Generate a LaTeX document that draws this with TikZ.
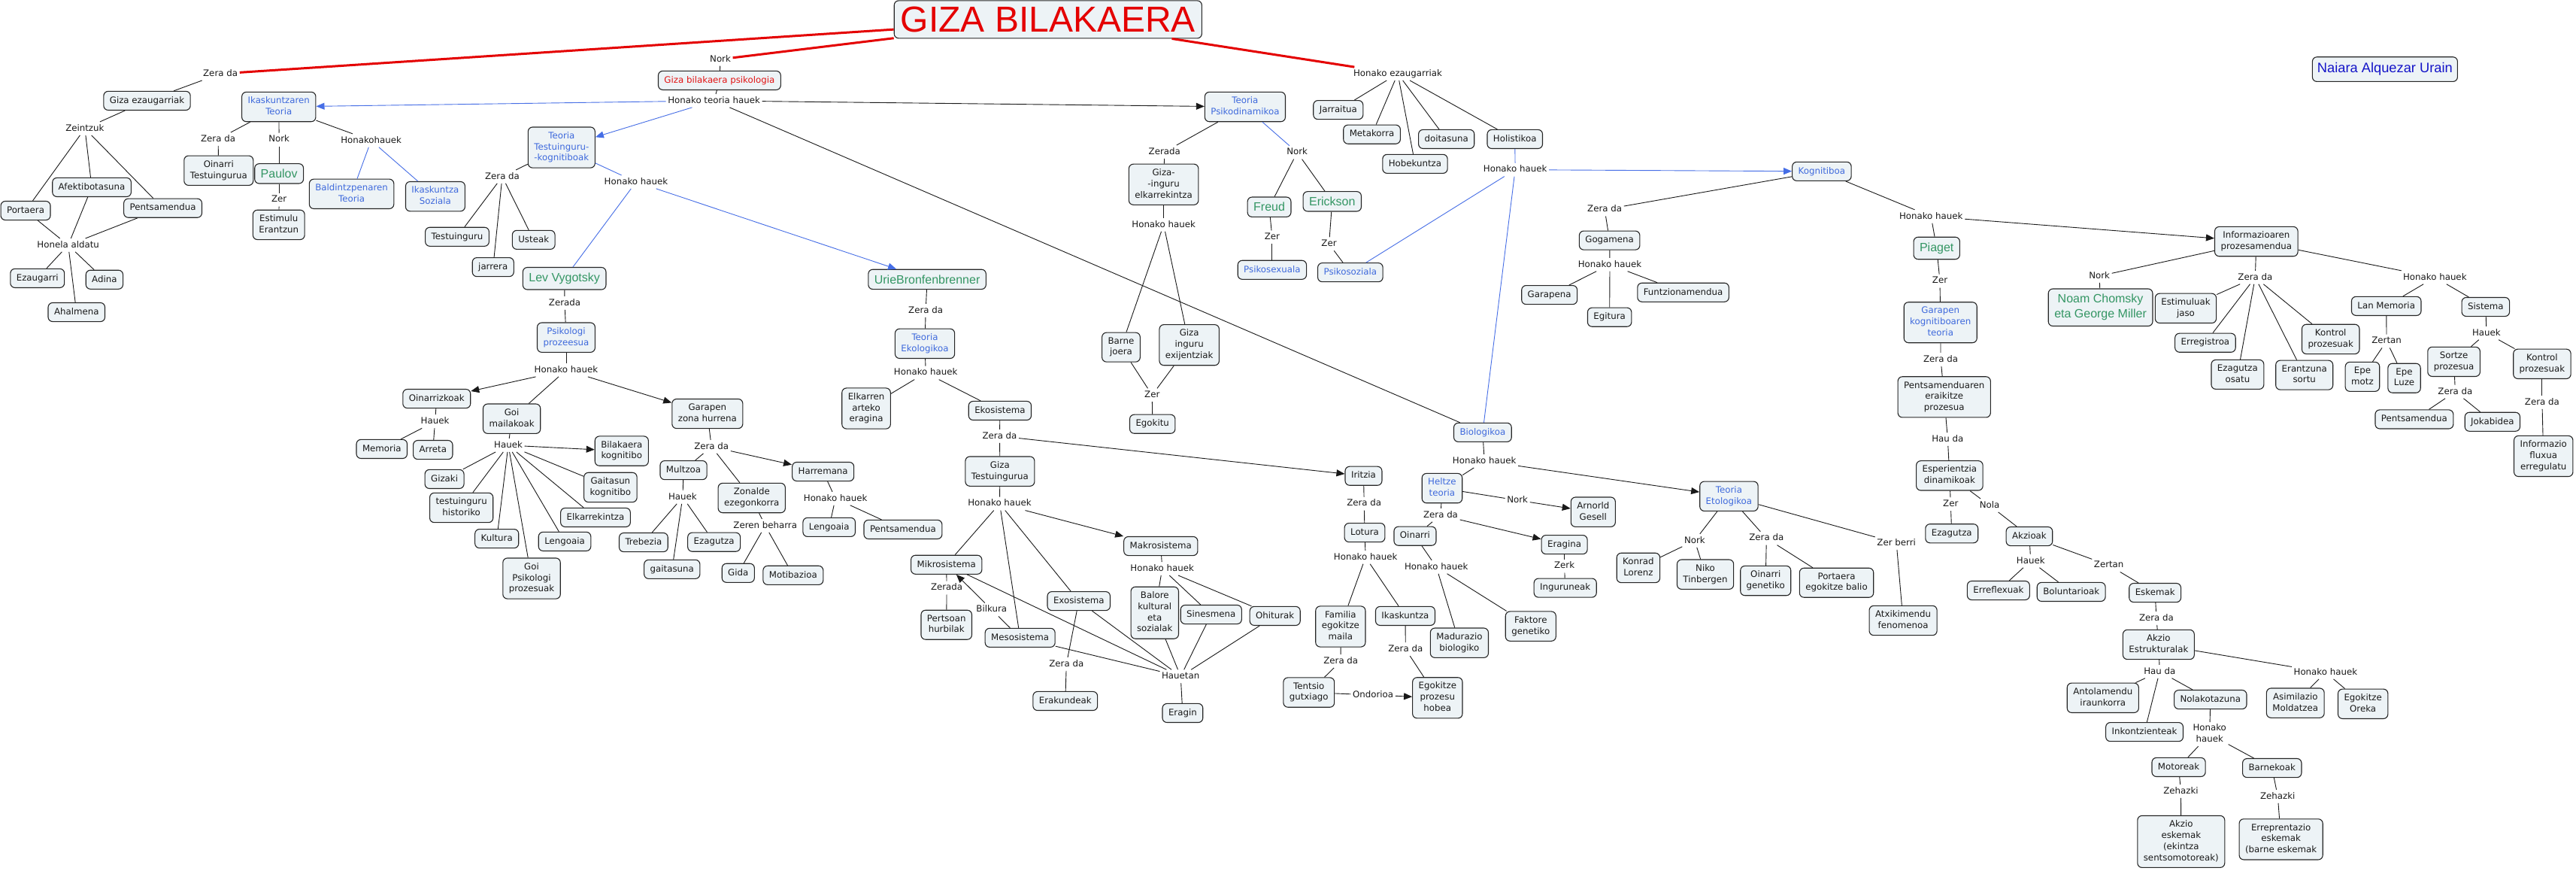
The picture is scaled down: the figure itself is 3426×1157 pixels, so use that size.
\documentclass[tikz,border=0pt]{standalone}
\usepackage{fontspec}
\setmainfont{DejaVu Sans}
\newfontfamily\arialf{Liberation Sans}
\usetikzlibrary{arrows.meta}
\setlength\parindent{0pt}
\newcommand\mystrut{\vrule width 0pt height 9.5pt depth 3pt\relax}
\definecolor{boxfill}{RGB}{237,243,246}
\definecolor{bluetext}{RGB}{62,105,220}
\definecolor{blueline}{RGB}{70,110,230}
\definecolor{greentext}{RGB}{52,150,100}
\definecolor{redline}{RGB}{228,0,0}
\definecolor{redtext}{RGB}{225,20,20}
\definecolor{darkblue}{RGB}{20,20,200}
\tikzset{
  basebox/.style={draw=black!85, line width=1.1pt, rounded corners=6pt, fill=boxfill, inner xsep=8pt, align=center, text=black!90},
  box/.style={basebox, inner ysep=6.3pt, font=\fontsize{11.8}{14.8}\selectfont, execute at begin node=\mystrut, execute at end node=\mystrut},
  bluebox/.style={box, text=bluetext},
  namebox/.style={basebox, inner ysep=7.3pt, text=greentext, font=\arialf\fontsize{16}{20}\selectfont},
  titlebox/.style={basebox, inner ysep=8pt, inner xsep=8.5pt, text=redline, font=\arialf\fontsize{48}{50}\selectfont},
  authbox/.style={basebox, inner ysep=7.8pt, inner xsep=6.5pt, text=darkblue, font=\arialf\fontsize{18.3}{22}\selectfont},
  lab/.style={inner sep=2.5pt, align=center, text=black!90, font=\fontsize{11.8}{14.8}\selectfont, execute at begin node=\mystrut, execute at end node=\mystrut},
  con/.style={draw=black!90, line width=0.9pt},
  arr/.style={con, -{Triangle[length=11pt,width=9pt]}},
  bcon/.style={draw=blueline, line width=0.9pt},
  barr/.style={bcon, -{Triangle[length=11pt,width=9pt]}},
  rcon/.style={draw=redline, line width=3pt},
}
\begin{document}
\begin{tikzpicture}[x=1pt,y=-1pt]
\useasboundingbox (0,0) rectangle (3426,1157);
\fill[white] (0,0) rectangle (3426,1157);

% ---------- zoom 1
\begin{scope}[shift={(0,0)},xscale=0.38265,yscale=0.36990]
\node[lab] (l1) at (766,265) {Zera da};
\node[box] (gizaez) at (511,362) {Giza ezaugarriak};
\node[lab] (zeintzuk) at (295,462) {Zeintzuk};
\node[box] (afek) at (319,673) {Afektibotasuna};
\node[box] (portaera) at (89,757) {Portaera};
\node[box] (pents1) at (566,748) {Pentsamendua};
\node[lab] (honela) at (237,881) {Honela aldatu};
\node[box] (ezaug) at (130,1000) {Ezaugarri};
\node[box] (adina) at (363,1005) {Adina};
\node[box] (ahal) at (266,1122) {Ahalmena};
\node[bluebox] (ikask) at (969,384) {Ikaskuntzaren\\Teoria};
\node[lab] (l2) at (758,500) {Zera da};
\node[lab] (l3) at (970,502) {Nork};
\node[lab] (l4) at (1290,505) {Honakohauek};
\node[box] (oinTest) at (760,613) {Oinarri\\Testuingurua};
\node[namebox] (paulov) at (970,624) {Paulov};
\node[lab] (l5) at (970,718) {Zer};
\node[box] (estim) at (969,808) {Estimulu\\Erantzun};
\node[bluebox] (baldin) at (1222,697) {Baldintzpenaren\\Teoria};
\node[bluebox] (iksoz) at (1513,706) {Ikaskuntza\\Soziala};
\node[box] (testu) at (1589,851) {Testuinguru};
\node[lab] (l6) at (1512,1515) {Hauek};
\end{scope}

% ---------- zoom 2
\begin{scope}[shift={(0,560)},xscale=0.38265,yscale=0.38074]
\node[box] (memoria) at (1327,97) {Memoria};
\end{scope}

% ---------- zoom 3
\begin{scope}[shift={(580,0)},xscale=0.38265,yscale=0.36990]
\node[lab] (nork0) at (988,213) {Nork};
\node[box, text=redtext] (gbp) at (985,289) {Giza bilakaera psikologia};
\node[lab] (hth) at (966,362) {Honako teoria hauek};
\node[bluebox] (ttk) at (436,530) {Teoria\\Testuinguru-\\-kognitiboak};
\node[lab] (l7) at (230,635) {Zera da};
\node[lab] (l8) at (695,654) {Honako hauek};
\node[box] (jarrera) at (198,960) {jarrera};
\node[box] (usteak) at (339,862) {Usteak};
\node[namebox] (lev) at (446,1001) {Lev Vygotsky};
\node[lab] (l9) at (447,1089) {Zerada};
\node[bluebox] (psikpro) at (452,1213) {Psikologi\\prozeesua};
\node[lab] (l10) at (452,1330) {Honako hauek};
\node[box] (oinarriz) at (2,1433) {Oinarrizkoak};
\node[box] (goimail) at (263,1505) {Goi\\mailakoak};
\node[box] (garzona) at (943,1487) {Garapen\\zona hurrena};
\node[box] (elkarren) at (1495,1468) {Elkarren\\arteko\\eragina};
\end{scope}

% ---------- zoom 4
\begin{scope}[shift={(580,560)},xscale=0.38265,yscale=0.38074]
\node[lab] (l11) at (251,84) {Hauek};
\node[box] (bilkog) at (645,104) {Bilakaera\\kognitibo};
\node[box] (gaitkog) at (606,231) {Gaitasun\\kognitibo};
\node[box] (elkarrek) at (554,336) {Elkarrekintza};
\node[box] (lengoaia1) at (447,420) {Lengoaia};
\node[box] (goipsik) at (332,549) {Goi\\Psikologi\\prozesuak};
\node[box] (kultura) at (211,410) {Kultura};
\node[box] (testhist) at (88,302) {testuinguru\\historiko};
\node[box] (gizaki) at (29,202) {Gizaki};
\node[box] (arreta) at (-11,100) {Arreta};
\node[lab] (l12) at (957,89) {Zera da};
\node[box] (multzoa) at (860,171) {Multzoa};
\node[box] (harremana) at (1345,176) {Harremana};
\node[box] (zonalde) at (1097,268) {Zonalde\\ezegonkorra};
\node[lab] (l13) at (857,265) {Hauek};
\node[lab] (l14) at (1388,270) {Honako hauek};
\node[lab] (l15) at (1144,365) {Zeren beharra};
\node[box] (trebezia) at (721,423) {Trebezia};
\node[box] (ezagutza1) at (966,422) {Ezagutza};
\node[box] (gaitasuna) at (820,517) {gaitasuna};
\node[box] (gida) at (1050,530) {Gida};
\node[box] (motib) at (1241,538) {Motibazioa};
\node[box] (lengoaia2) at (1366,370) {Lengoaia};
\end{scope}

% ---------- zoom 5
\begin{scope}[shift={(1160,0)},xscale=0.38265,yscale=0.36990]
\node[titlebox] (title) at (611,70) {GIZA BILAKAERA};
\node[bluebox] (psikodin) at (1296,384) {Teoria\\Psikodinamikoa};
\node[lab] (l16) at (1016,546) {Zerada};
\node[lab] (l17) at (1477,548) {Nork};
\node[box] (gizainguru) at (1013,663) {Giza-\\-inguru\\elkarrekintza};
\node[lab] (l18) at (1013,808) {Honako hauek};
\node[namebox] (freud) at (1380,744) {Freud};
\node[lab] (l19) at (1390,853) {Zer};
\node[bluebox] (psikosex) at (1390,970) {Psikosexuala};
\node[namebox] (uri) at (191,1004) {UrieBronfenbrenner};
\node[lab] (l20) at (186,1116) {Zera da};
\node[bluebox] (ekolog) at (183,1235) {Teoria\\Ekologikoa};
\node[lab] (l21) at (186,1340) {Honako hauek};
\node[box] (ekosist) at (444,1476) {Ekosistema};
\node[box] (barne) at (865,1248) {Barne\\joera};
\node[box] (gizaexij) at (1102,1240) {Giza\\inguru\\exijentziak};
\node[lab] (l22) at (973,1420) {Zer};
\node[box] (egokitu) at (974,1524) {Egokitu};
\end{scope}

% ---------- zoom 6
\begin{scope}[shift={(1160,560)},xscale=0.38265,yscale=0.38074]
\node[lab] (l23) at (443,52) {Zera da};
\node[box] (gizatest) at (444,175) {Giza\\Testuingurua};
\node[lab] (l24) at (443,288) {Honako hauek};
\node[box] (pents2) at (107,378) {Pentsamendua};
\node[box] (makro) at (1003,436) {Makrosistema};
\node[box] (mikro) at (258,501) {Mikrosistema};
\node[box] (exo) at (718,628) {Exosistema};
\node[box] (meso) at (514,756) {Mesosistema};
\node[lab] (l25) at (259,582) {Zerada};
\node[box] (pertsoan) at (258,711) {Pertsoan\\hurbilak};
\node[lab] (l26) at (415,658) {Bilkura};
\node[lab] (l27) at (675,848) {Zera da};
\node[box] (erakund) at (671,977) {Erakundeak};
\node[lab] (l28) at (1008,515) {Honako hauek};
\node[box] (balore) at (982,669) {Balore\\kultural\\eta\\sozialak};
\node[box] (sinesm) at (1178,675) {Sinesmena};
\node[box] (ohitur) at (1400,680) {Ohiturak};
\node[lab] (hauetan) at (1072,891) {Hauetan};
\node[box] (eragin) at (1079,1019) {Eragin};
\end{scope}

% ---------- zoom 7
\begin{scope}[shift={(1740,0)},xscale=0.38265,yscale=0.36990]
\node[lab] (honez) at (311,265) {Honako ezaugarriak};
\node[box] (jarraitua) at (104,395) {Jarraitua};
\node[box] (metak) at (221,483) {Metakorra};
\node[box] (hobek) at (371,589) {Hobekuntza};
\node[box] (doitas) at (480,500) {doitasuna};
\node[box] (holist) at (718,500) {Holistikoa};
\node[lab] (l29) at (719,610) {Honako hauek};
\node[namebox] (erickson) at (83,724) {Erickson};
\node[lab] (l30) at (72,877) {Zer};
\node[bluebox] (psikosoz) at (146,979) {Psikosoziala};
\node[lab] (l31) at (1030,753) {Zera da};
\node[box] (gogamena) at (1047,864) {Gogamena};
\node[lab] (l32) at (1048,951) {Honako hauek};
\node[box] (garapena) at (838,1060) {Garapena};
\node[box] (egitura) at (1047,1140) {Egitura};
\node[box] (funtz) at (1303,1051) {Funtzionamendua};
\end{scope}

% ---------- zoom 8
\begin{scope}[shift={(1740,560)},xscale=0.38265,yscale=0.38074]
\node[bluebox] (biolog) at (606,39) {Biologikoa};
\node[lab] (l33) at (612,139) {Honako hauek};
\node[box] (iritzia) at (192,191) {Iritzia};
\node[bluebox] (heltze) at (465,234) {Heltze\\teoria};
\node[bluebox] (etolog) at (1462,262) {Teoria\\Etologikoa};
\node[lab] (l34) at (727,276) {Nork};
\node[box] (gesell) at (990,317) {Arnorld\\Gesell};
\node[lab] (l35) at (460,328) {Zera da};
\node[box] (oinarri2) at (371,401) {Oinarri};
\node[box] (eragina) at (890,431) {Eragina};
\node[lab] (l36) at (890,506) {Zerk};
\node[box] (ingurun) at (893,582) {Inguruneak};
\node[lab] (l37) at (194,288) {Zera da};
\node[box] (lotura) at (196,389) {Lotura};
\node[lab] (l38) at (199,475) {Honako hauek};
\node[lab] (l39) at (445,509) {Honako hauek};
\node[box] (familia) at (112,717) {Familia\\egokitze\\maila};
\node[box] (ikaskuntza) at (337,680) {Ikaskuntza};
\node[box] (madurazio) at (525,774) {Madurazio\\biologiko};
\node[box] (faktore) at (773,716) {Faktore\\genetiko};
\node[lab] (l40) at (113,838) {Zera da};
\node[lab] (l41) at (338,796) {Zera da};
\node[box] (egokpro) at (449,966) {Egokitze\\prozesu\\hobea};
\node[lab] (l42) at (225,956) {Ondorioa};
\node[box] (tentsio) at (2,947) {Tentsio\\gutxiago};
\node[lab] (l43) at (1343,417) {Nork};
\node[box] (konrad) at (1147,512) {Konrad\\Lorenz};
\node[box] (niko) at (1380,535) {Niko\\Tinbergen};
\end{scope}

% ---------- zoom 9
\begin{scope}[shift={(2320,0)},xscale=0.35714,yscale=0.36990]
\node[bluebox] (kognit) at (288,616) {Kognitiboa};
\node[lab] (l44) at (695,778) {Honako hauek};
\node[namebox] (piaget) at (716,892) {Piaget};
\node[lab] (l45) at (728,1010) {Zer};
\node[bluebox] (garkog) at (730,1159) {Garapen\\kognitiboaren\\teoria};
\node[lab] (l46) at (731,1292) {Zera da};
\node[box] (pentsera) at (744,1427) {Pentsamenduaren\\eraikitze\\prozesua};
\node[lab] (l47) at (1322,992) {Nork};
\node[namebox] (noam) at (1326,1105) {Noam Chomsky\\eta George Miller};
\end{scope}

% ---------- zoom 10
\begin{scope}[shift={(2320,560)},xscale=0.35714,yscale=0.38074]
\node[lab] (l48) at (757,63) {Hau da};
\node[box] (esper) at (764,190) {Esperientzia\\dinamikoak};
\node[lab] (l49) at (768,290) {Zer};
\node[lab] (l50) at (913,294) {Nola};
\node[box] (ezagutza2) at (772,392) {Ezagutza};
\node[box] (akzioak) at (1061,402) {Akzioak};
\node[lab] (l51) at (1066,488) {Hauek};
\node[lab] (l52) at (1357,503) {Zertan};
\node[box] (erref) at (946,591) {Erreflexuak};
\node[box] (bolunt) at (1217,596) {Boluntarioak};
\node[box] (antol) at (1335,966) {Antolamendu\\iraunkorra};
\node[box] (oingen) at (79,557) {Oinarri\\genetiko};
\node[lab] (l53) at (82,409) {Zera da};
\node[box] (portegok) at (343,564) {Portaera\\egokitze balio};
\node[lab] (l54) at (566,425) {Zer berri};
\node[box] (atxik) at (591,696) {Atxikimendu\\fenomenoa};
\end{scope}

% ---------- zoom 11
\begin{scope}[shift={(2860,0)},xscale=0.36097,yscale=0.36990]
\node[authbox] (naiara) at (864,249) {Naiara Alquezar Urain};
\node[box] (infopro) at (390,868) {Informazioaren\\prozesamendua};
\node[lab] (l55) at (386,997) {Zera da};
\node[lab] (l56) at (1048,997) {Honako hauek};
\node[box] (estjaso) at (130,1108) {Estimuluak\\jaso};
\node[box] (erreg) at (202,1232) {Erregistroa};
\node[box] (ezagosatu) at (321,1346) {Ezagutza\\osatu};
\node[box] (erantz) at (567,1348) {Erantzuna\\sortu};
\node[box] (kontrol1) at (664,1219) {Kontrol\\prozesuak};
\node[box] (lanmem) at (869,1100) {Lan Memoria};
\node[box] (sistema) at (1235,1103) {Sistema};
\node[lab] (l57) at (870,1226) {Zertan};
\node[box] (epemotz) at (781,1354) {Epe\\motz};
\node[box] (epeluze) at (935,1359) {Epe\\Luze};
\node[lab] (l58) at (1238,1197) {Hauek};
\node[box] (sortze) at (1118,1300) {Sortze\\prozesua};
\node[box] (kontrol2) at (1443,1308) {Kontrol\\prozesuak};
\node[lab] (l59) at (1123,1408) {Zera da};
\node[box] (pents3) at (972,1507) {Pentsamendua};
\node[box] (jokab) at (1260,1516) {Jokabidea};
\node[lab] (l60) at (1443,1446) {Zera da};
\end{scope}

% ---------- zoom 12
\begin{scope}[shift={(2860,560)},xscale=0.36097,yscale=0.38074]
\node[box] (infoflux) at (1448,122) {Informazio\\fluxua\\erregulatu};
\node[box] (eskemak) at (17,599) {Eskemak};
\node[lab] (l61) at (22,688) {Zera da};
\node[box] (akzest) at (30,780) {Akzio\\Estrukturalak};
\node[lab] (l62) at (34,874) {Hau da};
\node[box] (inkontz) at (-22,1085) {Inkontzienteak};
\node[lab] (l63) at (645,877) {Honako hauek};
\node[box] (asimil) at (534,984) {Asimilazio\\Moldatzea};
\node[box] (egokoreka) at (783,987) {Egokitze\\Oreka};
\node[box] (nolak) at (221,972) {Nolakotazuna};
\node[lab] (l64) at (218,1093) {Honako\\hauek};
\node[box] (motor) at (104,1208) {Motoreak};
\node[box] (barnek) at (448,1211) {Barnekoak};
\node[lab] (l65) at (112,1292) {Zehazki};
\node[lab] (l66) at (469,1310) {Zehazki};
\node[box] (akzesk) at (113,1468) {Akzio\\eskemak\\(ekintza\\sentsomotoreak)};
\node[box] (errepr) at (481,1460) {Erreprentazio\\eskemak\\(barne eskemak};
\end{scope}

% ================= connectors
% red
\draw[rcon] (title) -- (l1);
\draw[rcon] (title) -- (nork0);
\draw[rcon] (title) -- (honez);
% left cluster
\draw[con] (l1) -- (gizaez);
\draw[con] (gizaez) -- (zeintzuk);
\draw[con] (zeintzuk) -- (portaera);
\draw[con] (zeintzuk) -- (afek);
\draw[con] (zeintzuk) -- (pents1);
\draw[con] (portaera) -- (honela);
\draw[con] (afek) -- (honela);
\draw[con] (pents1) -- (honela);
\draw[con] (honela) -- (ezaug);
\draw[con] (honela) -- (adina);
\draw[con] (honela) -- (ahal);
% psikologia
\draw[con] (nork0) -- (gbp);
\draw[con] (gbp) -- (hth);
\draw[barr] (hth) -- (ikask);
\draw[barr] (hth) -- (ttk);
\draw[arr] (hth) -- (psikodin);
\draw[con] (hth) -- (biolog);
% ikaskuntzaren
\draw[con] (ikask) -- (l2);
\draw[con] (l2) -- (oinTest);
\draw[con] (ikask) -- (l3);
\draw[con] (l3) -- (paulov);
\draw[con] (paulov) -- (l5);
\draw[con] (l5) -- (estim);
\draw[con] (ikask) -- (l4);
\draw[bcon] (l4) -- (baldin);
\draw[bcon] (l4) -- (iksoz);
% testuinguru-kognitiboak
\draw[con] (ttk) -- (l7);
\draw[con] (l7) -- (testu);
\draw[con] (l7) -- (jarrera);
\draw[con] (l7) -- (usteak);
\draw[bcon] (ttk) -- (l8);
\draw[bcon] (l8) -- (lev);
\draw[barr] (l8) -- (uri);
% vygotsky
\draw[con] (lev) -- (l9);
\draw[con] (l9) -- (psikpro);
\draw[con] (psikpro) -- (l10);
\draw[arr] (l10) -- (oinarriz);
\draw[con] (l10) -- (goimail);
\draw[arr] (l10) -- (garzona);
\draw[con] (oinarriz) -- (l6);
\draw[con] (l6) -- (memoria);
\draw[con] (l6) -- (arreta);
\draw[con] (goimail) -- (l11);
\draw[arr] (l11) -- (bilkog);
\draw[con] (l11) -- (gaitkog);
\draw[con] (l11) -- (elkarrek);
\draw[con] (l11) -- (lengoaia1);
\draw[con] (l11) -- (goipsik);
\draw[con] (l11) -- (kultura);
\draw[con] (l11) -- (testhist);
\draw[con] (l11) -- (gizaki);
\draw[con] (garzona) -- (l12);
\draw[con] (l12) -- (multzoa);
\draw[con] (l12) -- (zonalde);
\draw[arr] (l12) -- (harremana);
\draw[con] (multzoa) -- (l13);
\draw[con] (l13) -- (trebezia);
\draw[con] (l13) -- (gaitasuna);
\draw[con] (l13) -- (ezagutza1);
\draw[con] (zonalde) -- (l15);
\draw[con] (l15) -- (gida);
\draw[con] (l15) -- (motib);
\draw[con] (harremana) -- (l14);
\draw[con] (l14) -- (lengoaia2);
\draw[con] (l14) -- (pents2);
% bronfenbrenner
\draw[con] (uri) -- (l20);
\draw[con] (l20) -- (ekolog);
\draw[con] (ekolog) -- (l21);
\draw[con] (l21) -- (elkarren);
\draw[con] (l21) -- (ekosist);
\draw[con] (ekosist) -- (l23);
\draw[con] (l23) -- (gizatest);
\draw[arr] (l23) -- (iritzia);
\draw[con] (gizatest) -- (l24);
\draw[con] (l24) -- (mikro);
\draw[con] (l24) -- (meso);
\draw[con] (l24) -- (exo);
\draw[arr] (l24) -- (makro);
\draw[con] (mikro) -- (l25);
\draw[con] (l25) -- (pertsoan);
\draw[con] (meso) -- (l26);
\draw[arr] (l26) -- (mikro);
\draw[con] (exo) -- (l27);
\draw[con] (l27) -- (erakund);
\draw[con] (makro) -- (l28);
\draw[con] (l28) -- (balore);
\draw[con] (l28) -- (sinesm);
\draw[con] (l28) -- (ohitur);
\draw[con] (mikro) -- (hauetan);
\draw[con] (meso) -- (hauetan);
\draw[con] (exo) -- (hauetan);
\draw[con] (balore) -- (hauetan);
\draw[con] (sinesm) -- (hauetan);
\draw[con] (ohitur) -- (hauetan);
\draw[con] (hauetan) -- (eragin);
% psikodinamikoa
\draw[con] (psikodin) -- (l16);
\draw[con] (l16) -- (gizainguru);
\draw[bcon] (psikodin) -- (l17);
\draw[con] (l17) -- (freud);
\draw[con] (l17) -- (erickson);
\draw[con] (gizainguru) -- (l18);
\draw[con] (l18) -- (barne);
\draw[con] (l18) -- (gizaexij);
\draw[con] (barne) -- (l22);
\draw[con] (gizaexij) -- (l22);
\draw[con] (l22) -- (egokitu);
\draw[con] (freud) -- (l19);
\draw[con] (l19) -- (psikosex);
\draw[con] (erickson) -- (l30);
\draw[con] (l30) -- (psikosoz);
% ezaugarriak
\draw[con] (honez) -- (jarraitua);
\draw[con] (honez) -- (metak);
\draw[con] (honez) -- (hobek);
\draw[con] (honez) -- (doitas);
\draw[con] (honez) -- (holist);
\draw[bcon] (holist) -- (l29);
\draw[bcon] (l29) -- (psikosoz);
\draw[bcon] (l29) -- (biolog);
\draw[barr] (l29) -- (kognit);
% kognitiboa
\draw[con] (kognit) -- (l31);
\draw[con] (l31) -- (gogamena);
\draw[con] (gogamena) -- (l32);
\draw[con] (l32) -- (garapena);
\draw[con] (l32) -- (egitura);
\draw[con] (l32) -- (funtz);
\draw[con] (kognit) -- (l44);
\draw[con] (l44) -- (piaget);
\draw[arr] (l44) -- (infopro);
\draw[con] (piaget) -- (l45);
\draw[con] (l45) -- (garkog);
\draw[con] (garkog) -- (l46);
\draw[con] (l46) -- (pentsera);
\draw[con] (pentsera) -- (l48);
\draw[con] (l48) -- (esper);
\draw[con] (esper) -- (l49);
\draw[con] (l49) -- (ezagutza2);
\draw[con] (esper) -- (l50);
\draw[con] (l50) -- (akzioak);
\draw[con] (akzioak) -- (l51);
\draw[con] (l51) -- (erref);
\draw[con] (l51) -- (bolunt);
\draw[con] (akzioak) -- (l52);
\draw[con] (l52) -- (eskemak);
\draw[con] (eskemak) -- (l61);
\draw[con] (l61) -- (akzest);
\draw[con] (akzest) -- (l62);
\draw[con] (l62) -- (antol);
\draw[con] (l62) -- (inkontz);
\draw[con] (l62) -- (nolak);
\draw[con] (akzest) -- (l63);
\draw[con] (l63) -- (asimil);
\draw[con] (l63) -- (egokoreka);
\draw[con] (nolak) -- (l64);
\draw[con] (l64) -- (motor);
\draw[con] (l64) -- (barnek);
\draw[con] (motor) -- (l65);
\draw[con] (l65) -- (akzesk);
\draw[con] (barnek) -- (l66);
\draw[con] (l66) -- (errepr);
% informazioaren prozesamendua
\draw[con] (infopro) -- (l47);
\draw[con] (l47) -- (noam);
\draw[con] (infopro) -- (l55);
\draw[con] (l55) -- (estjaso);
\draw[con] (l55) -- (erreg);
\draw[con] (l55) -- (ezagosatu);
\draw[con] (l55) -- (erantz);
\draw[con] (l55) -- (kontrol1);
\draw[con] (infopro) -- (l56);
\draw[con] (l56) -- (lanmem);
\draw[con] (l56) -- (sistema);
\draw[con] (lanmem) -- (l57);
\draw[con] (l57) -- (epemotz);
\draw[con] (l57) -- (epeluze);
\draw[con] (sistema) -- (l58);
\draw[con] (l58) -- (sortze);
\draw[con] (l58) -- (kontrol2);
\draw[con] (sortze) -- (l59);
\draw[con] (l59) -- (pents3);
\draw[con] (l59) -- (jokab);
\draw[con] (kontrol2) -- (l60);
\draw[con] (l60) -- (infoflux);
% biologikoa
\draw[con] (biolog) -- (l33);
\draw[con] (l33) -- (heltze);
\draw[arr] (l33) -- (etolog);
\draw[con] (heltze) -- (l34);
\draw[arr] (l34) -- (gesell);
\draw[con] (heltze) -- (l35);
\draw[con] (l35) -- (oinarri2);
\draw[arr] (l35) -- (eragina);
\draw[con] (eragina) -- (l36);
\draw[con] (l36) -- (ingurun);
\draw[con] (oinarri2) -- (l39);
\draw[con] (l39) -- (madurazio);
\draw[con] (l39) -- (faktore);
\draw[con] (iritzia) -- (l37);
\draw[con] (l37) -- (lotura);
\draw[con] (lotura) -- (l38);
\draw[con] (l38) -- (familia);
\draw[con] (l38) -- (ikaskuntza);
\draw[con] (familia) -- (l40);
\draw[con] (l40) -- (tentsio);
\draw[con] (tentsio) -- (l42);
\draw[arr] (l42) -- (egokpro);
\draw[con] (ikaskuntza) -- (l41);
\draw[con] (l41) -- (egokpro);
\draw[con] (etolog) -- (l43);
\draw[con] (l43) -- (konrad);
\draw[con] (l43) -- (niko);
\draw[con] (etolog) -- (l53);
\draw[con] (l53) -- (oingen);
\draw[con] (l53) -- (portegok);
\draw[con] (etolog) -- (l54);
\draw[con] (l54) -- (atxik);
\end{tikzpicture}
\end{document}
